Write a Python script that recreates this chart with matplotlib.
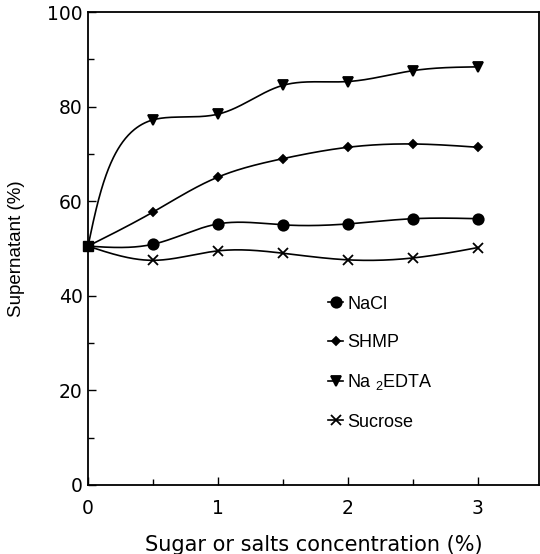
import numpy as np
import matplotlib.pyplot as plt
from matplotlib.ticker import MultipleLocator

# stężenie cukru / soli (%)
conc = [0, 0.5, 1, 1.5, 2, 2.5, 3]
nacl = [50.5, 50.9, 55.2, 55.0, 55.2, 56.3, 56.3]
shmp = [50.5, 57.7, 65.1, 69.0, 71.4, 72.1, 71.4]
edta = [50.5, 77.2, 78.4, 84.5, 85.3, 87.6, 88.4]
sucrose = [50.5, 47.5, 49.5, 49.0, 47.6, 48.0, 50.2]

labels = ['NaCl', 'SHMP', 'Na $_2$EDTA', 'Sucrose']
markers = ['o', 'D', 'v', 'x']
msizes = [7.5, 4.5, 7.5, 6.5]

narrow = ['Liberation Sans Narrow', 'Liberation Sans', 'DejaVu Sans']
plt.rcParams['mathtext.fontset'] = 'custom'
plt.rcParams['mathtext.rm'] = 'Liberation Sans'


def natural(t, v, ts):
    # naturalny spline kubiczny jednej współrzędnej
    m = len(t)
    h = np.diff(t)
    A = np.zeros((m, m))
    b = np.zeros(m)
    A[0, 0] = 1
    A[-1, -1] = 1
    for i in range(1, m - 1):
        A[i, i - 1] = h[i - 1]
        A[i, i] = 2 * (h[i - 1] + h[i])
        A[i, i + 1] = h[i]
        b[i] = 6 * ((v[i + 1] - v[i]) / h[i] - (v[i] - v[i - 1]) / h[i - 1])
    M = np.linalg.solve(A, b)
    idx = np.clip(np.searchsorted(t, ts) - 1, 0, m - 2)
    t0, t1 = t[idx], t[idx + 1]
    hh = t1 - t0
    a0 = t1 - ts
    a1 = ts - t0
    return (M[idx] * a0 ** 3 + M[idx + 1] * a1 ** 3) / (6 * hh) \
        + (v[idx] / hh - M[idx] * hh / 6) * a0 \
        + (v[idx + 1] / hh - M[idx + 1] * hh / 6) * a1


def smooth(x, y, n=400):
    # krzywa parametryczna w skali pikseli (długość cięciwy)
    px = np.asarray(x, float) * 130
    py = np.asarray(y, float) * 4.73
    d = np.hypot(np.diff(px), np.diff(py))
    t = np.concatenate([[0], np.cumsum(d)])
    ts = np.linspace(0, t[-1], n)
    return natural(t, px, ts) / 130, natural(t, py, ts) / 4.73


fig = plt.figure(figsize=(5.4, 5.54), dpi=100)
ax = fig.add_axes([88 / 540, 1 - 485 / 554, 451 / 540, 473 / 554])

for vals, lab, mk, ms in zip([nacl, shmp, edta, sucrose], labels, markers, msizes):
    xs, ys = smooth(conc, vals)
    ax.plot(xs, ys, color='black', lw=1.2)
    ax.plot(conc[1:], vals[1:], linestyle='none', marker=mk, ms=ms,
            color='black', mew=1.3, clip_on=False)
    # uchwyt do legendy
    ax.plot([], [], color='black', lw=1.2, marker=mk, ms=ms, mew=1.3, label=lab)

# wspólny punkt startowy
ax.plot(conc[0], nacl[0], marker='s', ms=6.5, color='black', clip_on=False)

ax.set_xlim(0, 3.47)
ax.set_ylim(0, 100)
ax.xaxis.set_major_locator(MultipleLocator(1))
ax.xaxis.set_minor_locator(MultipleLocator(0.5))
ax.yaxis.set_major_locator(MultipleLocator(20))
ax.yaxis.set_minor_locator(MultipleLocator(10))
ax.tick_params(which='both', direction='in', width=1.0, labelsize=13.5)
ax.tick_params(which='major', length=6)
ax.tick_params(which='minor', length=4)
ax.tick_params(axis='x', pad=10)
ax.tick_params(axis='y', pad=4)
for s in ax.spines.values():
    s.set_linewidth(1.3)

ax.set_xlabel('Sugar or salts concentration (%)', fontsize=15, labelpad=12.5)
ax.set_ylabel('Supernatant (%)', fontsize=13.5, family=narrow, labelpad=15.5)

leg = ax.legend(loc='upper left', bbox_to_anchor=(0.532, 0.40), frameon=False,
                borderaxespad=0, borderpad=0, handlelength=0.85,
                handletextpad=0.22, labelspacing=1.18,
                prop={'family': narrow, 'size': 13})

fig.savefig('out.png', dpi=100)
